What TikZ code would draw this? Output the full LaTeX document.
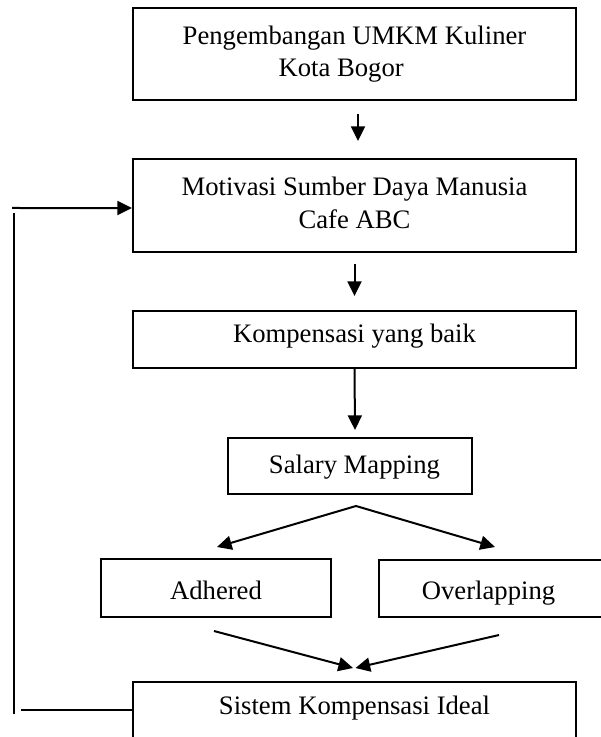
\documentclass[tikz,border=0pt]{standalone}
\usepackage{fontspec}
\setmainfont{Liberation Serif}
\usetikzlibrary{arrows.meta,calc}
\begin{document}
\begin{tikzpicture}[x=0.75pt,y=-0.75pt,
  box/.style={draw, line width=1.5pt, inner sep=0pt, align=center, font=\fontsize{20pt}{24.5pt}\selectfont},
  arr/.style={line width=1.5pt, -{Triangle[length=11pt,width=10.5pt]}},
  ln/.style={line width=1.5pt}]
\useasboundingbox (0,0) rectangle (600,737);

\node[box, minimum width=332.25pt, minimum height=69pt] (b1) at (354.5,54)
  {Pengembangan UMKM Kuliner\\Kota Bogor\hspace*{20pt}};
\node[box, minimum width=332.25pt, minimum height=69.75pt] (b2) at (354.5,205.5)
  {Motivasi Sumber Daya Manusia\\Cafe ABC\vphantom{g}};
\node[box, minimum width=332.25pt, minimum height=42.75pt, text height=13.7pt, text depth=9.9pt] (b3) at (354.5,339.5)
  {Kompensasi yang baik};
\node[box, minimum width=183pt, minimum height=42pt, text height=13.7pt, text depth=3.2pt] (b4) at (350,466)
  {\hspace*{6.75pt}Salary Mapping};
\node[box, minimum width=172.5pt, minimum height=43.5pt, text height=16.5pt, text depth=0pt] (b5) at (216,588)
  {Adhered};
\node[box, minimum width=167.25pt, minimum height=42.75pt, text height=15.75pt, text depth=0pt] (b6) at (490.5,588.5)
  {Overlapping\hspace*{3pt}};
\node[box, minimum width=332.25pt, minimum height=51pt, text height=13.7pt, text depth=16.7pt] (b7) at (354.5,716)
  {Sistem Kompensasi Ideal};

\draw[arr] ([xshift=2.6pt,yshift=-9.75pt]b1.south) -- ([xshift=2.6pt,yshift=12.75pt]b2.north);
\draw[arr] ([yshift=-8.25pt]b2.south) -- ([yshift=10.5pt]b3.north);
\draw[arr] (b3.south) -- ([xshift=3.75pt,yshift=5.25pt]b4.north);

\coordinate (sp) at ([xshift=4.5pt,yshift=-8.25pt]b4.south);
\draw[arr] (sp) -- ([xshift=0.75pt,yshift=8.25pt]b5.north);
\draw[arr] (sp) -- ([xshift=3.4pt,yshift=9pt]b6.north);

\draw[arr] ([xshift=-1.5pt,yshift=-9.75pt]b5.south) -- ([xshift=-1.1pt,yshift=9.75pt]b7.north);
\draw[arr] ([xshift=6.4pt,yshift=-12.75pt]b6.south) -- ([xshift=0.75pt,yshift=9.75pt]b7.north);

\coordinate (f1) at (21,710);
\coordinate (f2) at (14,714);
\coordinate (f3) at (14,213);
\coordinate (f4) at (12,208);
\draw[ln] ([yshift=4.5pt]b7.west) -- (f1);
\draw[ln] (f2) -- (f3);
\draw[arr] (f4) -- ([yshift=-1.9pt]b2.west);
\end{tikzpicture}
\end{document}
